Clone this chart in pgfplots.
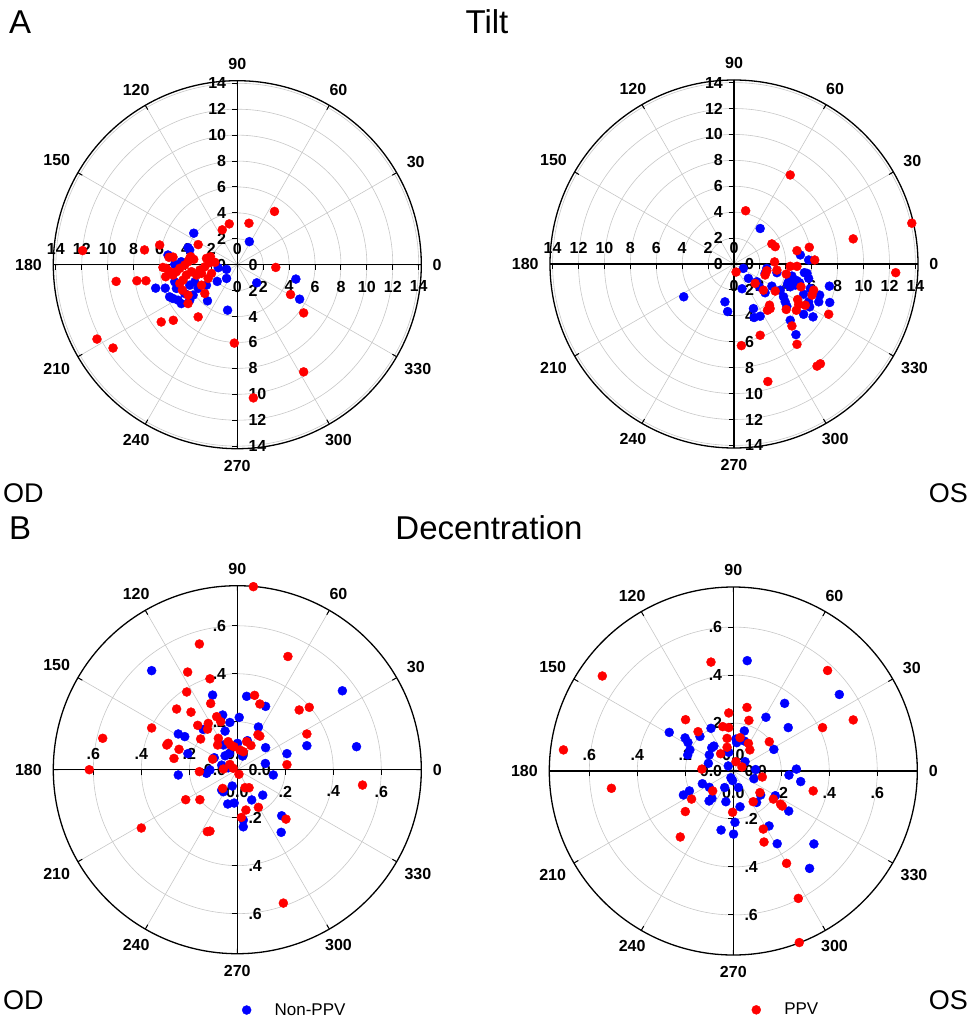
\documentclass[border=0pt]{standalone}
\usepackage{fontspec}
\setmainfont{Liberation Sans}
\usepackage{pgfplots}
\usepackage{pgfplotstable}
\pgfplotsset{compat=1.18}
\usepgfplotslibrary{polar}

\newcommand{\tickfont}{\fontsize{16}{18}\selectfont\bfseries}

% ---------------- data (Cartesian components) ----------------
\pgfplotstableread{
x y
0.93 1.78
1.50 -1.40
4.52 -1.11
4.81 -2.66
-0.75 -3.51
-0.83 -0.36
-0.83 -1.06
-1.55 -1.29
-2.30 -2.79
-3.36 2.43
-6.30 -1.81
-5.56 -1.81
-3.67 1.14
-3.80 1.32
-5.35 0.75
-4.83 0.03
-4.32 0.23
-1.47 -0.23
-1.99 0.23
-2.38 -1.58
-4.70 -1.83
-4.83 -1.32
-5.22 -2.48
-4.96 -2.61
-4.57 -2.74
-4.32 -3.00
-3.67 -2.74
-3.41 -2.35
-4.06 -2.22
-3.02 -1.83
-3.67 -1.58
-3.28 -1.32
}\tiltODnon

\pgfplotstableread{
x y
-11.94 1.09
-7.16 1.14
-5.99 1.52
-9.35 -1.29
-7.75 -1.24
-7.05 -1.24
-10.83 -5.74
-9.59 -6.43
-5.87 -4.42
-4.94 -4.29
-3.02 -4.03
-0.23 -6.05
1.24 -10.28
5.12 -8.27
5.12 -3.72
4.11 -2.30
2.97 -0.21
2.87 4.11
0.90 3.20
-0.62 3.15
-1.16 2.69
-3.02 1.55
-5.27 0.57
-4.96 0.59
-5.74 -0.21
-5.48 -0.28
-5.53 -0.93
-5.22 -0.54
-4.96 -0.80
-4.70 -0.54
-4.44 -0.28
-4.06 -0.03
-3.80 0.23
-3.67 0.49
-3.59 0.62
-3.36 0.41
-2.38 0.49
-2.07 0.62
-1.73 0.18
-2.12 0.16
-2.51 -0.16
-2.89 -0.41
-2.76 -0.67
-3.15 -0.80
-3.54 -0.54
-3.93 -0.80
-4.19 -1.19
-4.44 -1.45
-4.24 -1.96
-3.80 -2.35
-3.80 -3.00
-2.51 -2.22
-2.76 -1.58
-2.25 -1.06
-1.99 -0.67
}\tiltODppv

\pgfplotstableread{
x y
2.02 2.74
-3.88 -2.53
-0.70 -2.92
-0.49 -3.67
0.72 -0.34
1.11 -1.11
0.62 -1.91
1.50 -3.44
1.55 -4.13
2.02 -4.03
2.53 -0.34
2.40 -0.72
1.76 -1.37
1.96 -1.76
2.40 -2.22
2.92 -1.71
3.31 -0.67
5.12 0.70
5.76 0.31
5.43 -0.67
5.63 -0.72
4.47 -0.93
4.60 -1.24
4.21 -1.37
4.13 -1.55
4.86 -1.29
5.06 -1.45
4.73 -1.63
4.34 -1.76
5.76 -1.11
5.89 -1.89
3.82 -2.53
3.95 -2.92
4.08 -3.26
4.34 -4.34
4.78 -5.45
5.37 -3.88
5.76 -2.92
5.84 -3.31
6.10 -4.08
6.54 -2.92
6.61 -2.40
7.36 -1.71
7.39 -2.97
5.37 -2.33
3.57 -2.02
}\tiltOSnon

\pgfplotstableread{
x y
13.72 3.15
9.20 1.94
12.48 -0.67
4.34 6.87
0.90 4.11
2.92 1.55
3.18 1.34
4.86 1.03
5.81 1.29
6.23 0.31
3.13 0.16
4.34 -0.18
4.86 -0.18
3.31 -0.47
4.03 -0.78
0.16 -0.62
2.53 -0.52
2.40 -0.85
1.63 -1.50
2.27 -2.02
3.18 -2.09
5.17 -1.76
6.15 -2.02
6.02 -2.40
4.91 -2.74
4.99 -3.13
5.50 -3.18
4.81 -3.57
4.03 -3.51
2.74 -3.18
2.58 -3.57
2.79 -3.44
7.31 -3.88
4.47 -4.78
2.02 -5.50
4.86 -6.20
0.57 -6.30
6.41 -7.88
6.67 -7.70
2.61 -9.07
}\tiltOSppv

\pgfplotstableread{
x y
-0.357 0.413
0.438 0.329
0.497 0.096
0.290 0.100
0.207 0.067
-0.103 0.311
0.039 0.306
0.118 0.264
0.008 0.218
-0.061 0.228
-0.031 0.197
-0.051 0.161
-0.142 0.168
0.088 0.178
-0.246 0.149
-0.219 0.138
-0.206 0.067
-0.246 -0.022
-0.058 0.103
-0.051 0.058
-0.033 0.068
0.001 0.110
0.042 0.121
0.118 0.092
0.022 0.057
0.117 0.026
0.150 -0.022
-0.065 0.019
-0.114 -0.001
-0.128 -0.015
-0.096 0.050
-0.038 0.008
-0.065 -0.085
-0.058 -0.092
-0.021 -0.068
-0.040 -0.143
-0.013 -0.139
0.060 -0.126
0.106 -0.106
0.025 -0.210
0.025 -0.238
0.185 -0.192
0.183 -0.261
}\decODnon

\pgfplotstableread{
x y
0.067 0.763
-0.158 0.524
0.211 0.472
-0.207 0.407
-0.114 0.379
-0.211 0.324
0.072 0.310
0.094 0.274
-0.111 0.276
-0.253 0.253
-0.193 0.240
0.258 0.249
0.300 0.260
-0.357 0.174
-0.561 0.131
-0.617 0.000
-0.165 0.185
-0.153 0.128
-0.294 0.103
-0.288 0.110
-0.243 0.085
-0.264 0.047
-0.121 0.193
-0.124 0.169
-0.086 0.221
-0.069 0.200
-0.079 0.131
-0.082 0.103
-0.103 0.044
-0.038 0.117
-0.028 0.103
-0.014 0.096
-0.031 0.022
-0.017 0.006
-0.058 0.003
-0.158 -0.008
0.007 -0.019
0.011 0.082
0.025 0.075
0.039 0.117
0.057 0.101
0.086 0.146
0.094 0.140
0.290 0.149
0.207 0.021
0.522 -0.064
-0.061 -0.078
0.032 -0.075
0.049 -0.075
0.088 -0.157
0.036 -0.168
0.017 -0.199
0.203 -0.206
-0.215 -0.125
-0.156 -0.125
-0.400 -0.243
-0.125 -0.258
-0.114 -0.256
0.192 -0.556
}\decODppv

\pgfplotstableread{
x y
0.058 0.460
0.442 0.319
0.214 0.282
0.136 0.224
0.229 0.181
0.169 0.090
-0.267 0.161
-0.201 0.138
-0.189 0.119
-0.181 0.088
-0.190 0.067
-0.139 0.144
-0.093 0.178
-0.090 0.097
-0.081 0.104
-0.100 0.067
-0.104 0.032
-0.019 0.078
-0.021 0.021
0.011 0.133
0.014 0.118
0.046 0.125
0.046 0.167
0.049 0.039
0.093 0.006
0.086 -0.032
-0.010 -0.028
-0.003 -0.040
-0.129 -0.053
-0.100 -0.068
-0.089 -0.114
-0.101 -0.125
-0.036 -0.069
-0.031 -0.128
0.021 -0.069
0.028 -0.149
-0.208 -0.100
-0.183 -0.083
0.097 -0.131
0.114 -0.100
0.175 -0.103
0.231 -0.167
0.232 -0.017
0.263 0.008
0.281 -0.044
0.149 -0.229
0.183 -0.303
0.007 -0.214
0.001 -0.263
-0.051 -0.246
0.336 -0.304
0.318 -0.406
}\decOSnon

\pgfplotstableread{
x y
-0.708 0.088
-0.546 0.396
-0.508 -0.072
-0.093 0.454
0.393 0.419
0.500 0.213
0.372 0.181
0.057 0.265
0.065 0.211
-0.019 0.242
-0.199 0.214
-0.147 0.164
-0.044 0.185
-0.019 0.181
-0.026 0.136
-0.026 0.099
0.028 0.139
0.063 0.115
0.069 0.088
0.150 0.122
-0.053 0.072
0.011 0.039
0.036 0.017
-0.131 0.008
0.121 -0.025
-0.086 -0.083
0.111 -0.090
0.083 -0.128
0.167 -0.117
0.197 -0.138
0.204 -0.146
0.333 -0.083
-0.174 -0.117
-0.200 -0.169
-0.221 -0.275
-0.003 -0.172
0.125 -0.242
0.128 -0.296
0.222 -0.385
0.271 -0.531
0.275 -0.715
}\decOSppv

\tikzset{
  lblL/.style={anchor=south, yshift=10pt, inner sep=0pt, font=\tickfont},
  lblT/.style={anchor=east, xshift=-11pt, inner sep=0pt, font=\tickfont},
  lblR/.style={anchor=north, yshift=-16pt, inner sep=0pt, font=\tickfont},
  lblB/.style={anchor=west, xshift=11pt, inner sep=0pt, font=\tickfont},
  alab/.style={inner sep=1.5pt, font=\tickfont},
}

\newcommand{\crossaxes}[1]{%
  \draw[line width=1.4pt] (axis cs:0,#1) -- (axis cs:180,#1);
  \draw[line width=1.4pt] (axis cs:90,#1) -- (axis cs:270,#1);
}
\newcommand{\radticks}[1]{%
  \draw[line width=1pt] (axis cs:0,#1) -- ++(0,-5pt);
  \draw[line width=1pt] (axis cs:180,#1) -- ++(0,-5pt);
  \draw[line width=1pt] (axis cs:90,#1) -- ++(-5pt,0);
  \draw[line width=1pt] (axis cs:270,#1) -- ++(-5pt,0);
}
\newcommand{\radlabels}[2]{%
  \node[lblL] at (axis cs:180,#1) {#2};
  \node[lblT] at (axis cs:90,#1) {#2};
  \node[lblR] at (axis cs:0,#1) {#2};
  \node[lblB] at (axis cs:270,#1) {#2};
}
% angle labels placed just outside the rim, #1 = radius in data units
\newcommand{\anglabels}[1]{%
  \node[alab, anchor=180] at (axis cs:0,#1) {0};
  \node[alab, anchor=210] at (axis cs:30,#1) {30};
  \node[alab, anchor=240] at (axis cs:60,#1) {60};
  \node[alab, anchor=270] at (axis cs:90,#1) {90};
  \node[alab, anchor=300] at (axis cs:120,#1) {120};
  \node[alab, anchor=330] at (axis cs:150,#1) {150};
  \node[alab, anchor=0]   at (axis cs:180,#1) {180};
  \node[alab, anchor=30]  at (axis cs:210,#1) {210};
  \node[alab, anchor=60]  at (axis cs:240,#1) {240};
  \node[alab, anchor=90]  at (axis cs:270,#1) {270};
  \node[alab, anchor=120] at (axis cs:300,#1) {300};
  \node[alab, anchor=150] at (axis cs:330,#1) {330};
}

\pgfplotsset{
  mypolar/.style={
    scale only axis, width=368pt, height=368pt,
    anchor=center, clip=false,
    ymin=0,
    xtick={0,30,...,330},
    xticklabels={},
    yticklabels={},
    ytick style={draw=none},
    grid=major,
    major grid style={draw=black!22, line width=0.6pt},
    axis line style={line width=1.3pt, black},
    tick align=outside,
    major tick length=5pt,
    xtick style={black, line width=1pt},
  },
  nonppv/.style={only marks, mark=*, mark size=4.5pt, blue, mark options={draw=blue, fill=blue}},
  ppv/.style={only marks, mark=*, mark size=4.5pt, red, mark options={draw=red, fill=red}},
}

\begin{document}
\begin{tikzpicture}
\useasboundingbox (0pt,0pt) rectangle (971pt,-1027pt);

% ---------- A: Tilt OD ----------
\begin{polaraxis}[mypolar, at={(237.3pt,-264.7pt)}, ymax=14.2, ytick={2,4,...,14}]
\crossaxes{14.2}
\addplot[nonppv, data cs=cart] table[x=x,y=y] {\tiltODnon};
\addplot[ppv, data cs=cart] table[x=x,y=y] {\tiltODppv};
\pgfplotsinvokeforeach{2,4,...,14}{\radticks{#1}\radlabels{#1}{#1}}
\radlabels{0}{0}
\anglabels{14.95}
\end{polaraxis}

% ---------- A: Tilt OS ----------
\begin{polaraxis}[mypolar, at={(734pt,-264pt)}, ymax=14.2, ytick={2,4,...,14}]
\crossaxes{14.2}
\addplot[nonppv, data cs=cart] table[x=x,y=y] {\tiltOSnon};
\addplot[ppv, data cs=cart] table[x=x,y=y] {\tiltOSppv};
\pgfplotsinvokeforeach{2,4,...,14}{\radticks{#1}\radlabels{#1}{#1}}
\radlabels{0}{0}
\anglabels{14.95}
\end{polaraxis}

% ---------- B: Decentration OD ----------
\begin{polaraxis}[mypolar, at={(237.3pt,-769.7pt)}, ymax=0.767, ytick={0.2,0.4,0.6},
  legend style={at={(0.495,-0.153)}, anchor=west, draw=none, fill=none,
    font=\fontsize{17}{20}\selectfont}]
\crossaxes{0.767}
\addplot[nonppv, data cs=cart,
  legend image code/.code={\path[draw=none] (0pt,0pt) -- (34pt,0pt);
    \path[mark=*, mark size=4.5pt, mark options={draw=blue, fill=blue}] plot coordinates {(8pt,0pt)};}]
  table[x=x,y=y] {\decODnon};
\addlegendentry{Non-PPV}
\addplot[ppv, data cs=cart, forget plot] table[x=x,y=y] {\decODppv};
\radticks{0.2}\radticks{0.4}\radticks{0.6}
\radlabels{0.2}{.2}\radlabels{0.4}{.4}\radlabels{0.6}{.6}
\radlabels{0}{0.0}
\anglabels{0.808}
\end{polaraxis}

% ---------- B: Decentration OS ----------
\begin{polaraxis}[mypolar, at={(733.3pt,-771pt)}, ymax=0.767, ytick={0.2,0.4,0.6},
  legend style={at={(0.532,-0.149)}, anchor=west, draw=none, fill=none,
    font=\fontsize{17}{20}\selectfont}]
\crossaxes{0.767}
\addplot[nonppv, data cs=cart, forget plot] table[x=x,y=y] {\decOSnon};
\addplot[ppv, data cs=cart,
  legend image code/.code={\path[draw=none] (0pt,0pt) -- (34pt,0pt);
    \path[mark=*, mark size=4.5pt, mark options={draw=red, fill=red}] plot coordinates {(8pt,0pt)};}]
  table[x=x,y=y] {\decOSppv};
\addlegendentry{PPV}
\radticks{0.2}\radticks{0.4}\radticks{0.6}
\radlabels{0.2}{.2}\radlabels{0.4}{.4}\radlabels{0.6}{.6}
\radlabels{0}{0.0}
\anglabels{0.808}
\end{polaraxis}

% ---------- titles and labels ----------
\node[anchor=base west, inner sep=0pt, font=\fontsize{33}{36}\selectfont] at (9pt,-34pt) {A};
\node[anchor=base, inner sep=0pt, font=\fontsize{33}{36}\selectfont] at (487pt,-34pt) {Tilt};
\node[anchor=base west, inner sep=0pt, font=\fontsize{33}{36}\selectfont] at (9pt,-539pt) {B};
\node[anchor=base, inner sep=0pt, font=\fontsize{33}{36}\selectfont] at (489pt,-539pt) {Decentration};
\node[anchor=base west, inner sep=0pt, font=\fontsize{27}{30}\selectfont] at (3pt,-502.5pt) {OD};
\node[anchor=base east, inner sep=0pt, font=\fontsize{27}{30}\selectfont] at (968pt,-502.5pt) {OS};
\node[anchor=base west, inner sep=0pt, font=\fontsize{27}{30}\selectfont] at (3pt,-1009.5pt) {OD};
\node[anchor=base east, inner sep=0pt, font=\fontsize{27}{30}\selectfont] at (968pt,-1009.5pt) {OS};
\end{tikzpicture}
\end{document}
